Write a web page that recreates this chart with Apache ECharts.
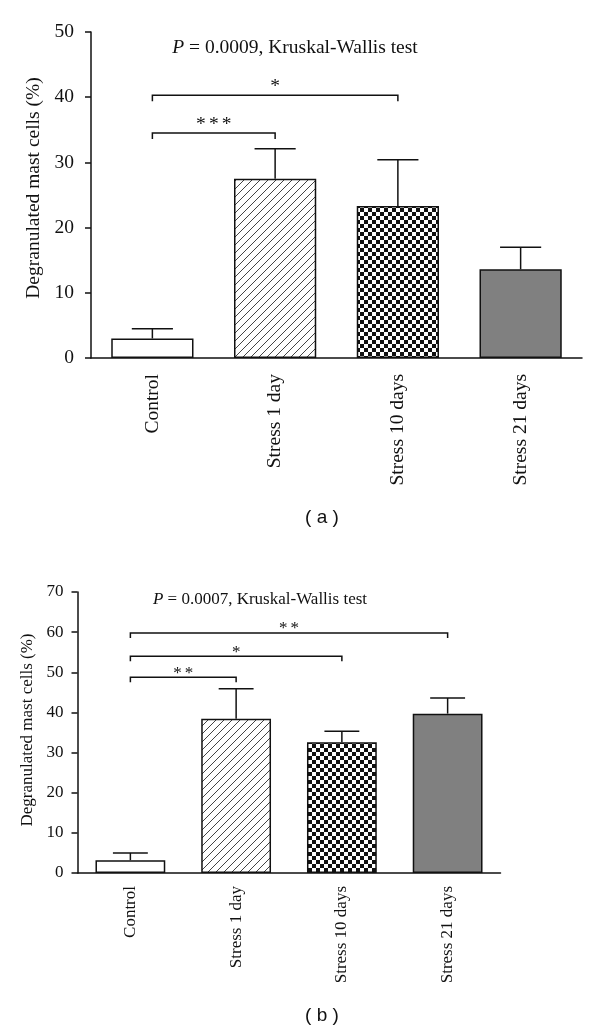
<!DOCTYPE html>
<html>
<head>
<meta charset="utf-8">
<script src="https://cdn.jsdelivr.net/npm/echarts@6/dist/echarts.min.js"></script>
<style>
html,body{margin:0;padding:0;background:#fff;}
#chart{width:600px;height:1031px;}
</style>
</head>
<body>
<div id="chart"></div>
<script>
// ---- data ----
const categories = ['Control', 'Stress 1 day', 'Stress 10 days', 'Stress 21 days'];
const meansA = [3.0, 27.5, 23.3, 13.6];
const errTopA = [4.5, 32.1, 30.4, 17.0];
const meansB = [3.2, 38.4, 32.6, 39.7];
const errTopB = [5.0, 45.9, 35.3, 43.6];
// brackets: [from category index, to category index, level]
const bracketsA = [[0, 1, 34.5], [0, 2, 40.3]];
const starsA = ['*\u2006*\u2006*', '*'];
const bracketsB = [[0, 1, 48.75], [0, 2, 54.0], [0, 3, 59.8]];
const starsB = ['*\u2006*', '*', '*\u2006*'];
const yMaxA = 50, yMaxB = 70, yStep = 10;
const testA = ' = 0.0009, Kruskal-Wallis test';
const testB = ' = 0.0007, Kruskal-Wallis test';
const yName = 'Degranulated mast cells (%)';
const panelA = '( a )', panelB = '( b )';

// ---- patterns ----
function hatchPattern() {
  const c = document.createElement('canvas');
  c.width = 8; c.height = 8;
  const g = c.getContext('2d');
  g.fillStyle = '#fff'; g.fillRect(0, 0, 8, 8);
  g.strokeStyle = '#444'; g.lineWidth = 1;
  g.beginPath();
  g.moveTo(0, 8); g.lineTo(8, 0);
  g.moveTo(-1, 1); g.lineTo(1, -1);
  g.moveTo(7, 9); g.lineTo(9, 7);
  g.stroke();
  return {image: c, repeat: 'repeat'};
}
function checkerPattern() {
  const c = document.createElement('canvas');
  c.width = 8; c.height = 8;
  const g = c.getContext('2d');
  g.fillStyle = '#fff'; g.fillRect(0, 0, 8, 8);
  g.fillStyle = '#111';
  g.fillRect(0, 0, 4, 4); g.fillRect(4, 4, 4, 4);
  return {image: c, repeat: 'repeat'};
}
const fills = ['#ffffff', hatchPattern(), checkerPattern(), '#808080'];

const serif = "'Liberation Serif', 'Times New Roman', serif";
const ink = '#111';

function barData(vals) {
  return vals.map((v, i) => ({
    value: v,
    itemStyle: {color: fills[i], borderColor: ink, borderWidth: 1.5}
  }));
}
function errRender(frac) {
  return function (params, api) {
    const x = api.value(0);
    const p0 = api.coord([x, api.value(1)]);
    const p1 = api.coord([x, api.value(2)]);
    const hw = api.size([1, 0])[0] * frac / 4;
    const st = {stroke: ink, lineWidth: 1.5};
    return {type: 'group', children: [
      {type: 'line', shape: {x1: p0[0], y1: p0[1], x2: p1[0], y2: p1[1]}, style: st},
      {type: 'line', shape: {x1: p1[0] - hw, y1: p1[1], x2: p1[0] + hw, y2: p1[1]}, style: st}
    ]};
  };
}
function bracketRender(stars, drop, fs, off) {
  return function (params, api) {
    const a = api.coord([api.value(0), api.value(2)]);
    const b = api.coord([api.value(1), api.value(2)]);
    return {type: 'group', children: [
      {type: 'polyline', shape: {points: [[a[0], a[1] + drop], [a[0], a[1]], [b[0], b[1]], [b[0], b[1] + drop]]},
        style: {stroke: ink, lineWidth: 1.5, fill: null}},
      {type: 'text', x: (a[0] + b[0]) / 2, y: a[1] - off,
        style: {text: stars[params.dataIndex], font: fs + 'px ' + serif, fill: ink,
          align: 'center', verticalAlign: 'middle'}}
    ]};
  };
}

function xAxis(gi, fs, margin) {
  return {
    type: 'category', gridIndex: gi, data: categories,
    axisLine: {lineStyle: {color: ink, width: 1.5}},
    axisTick: {alignWithLabel: true, length: 6, lineStyle: {color: ink, width: 1.5}},
    axisLabel: {rotate: 90, margin: margin, color: ink, fontSize: fs, fontFamily: serif}
  };
}
function yAxis(gi, max, fs, margin, gap, shift) {
  return {
    type: 'value', gridIndex: gi, min: 0, max: max, interval: yStep,
    name: yName, nameLocation: 'middle', nameGap: gap,
    nameTextStyle: {color: ink, fontSize: fs, fontFamily: serif, padding: [0, 0, 0, shift]},
    axisLine: {show: true, lineStyle: {color: ink, width: 1.5}},
    axisTick: {show: true, length: 6, lineStyle: {color: ink, width: 1.5}},
    axisLabel: {margin: margin, color: ink, fontSize: fs, fontFamily: serif},
    splitLine: {show: false}
  };
}

const chart = echarts.init(document.getElementById('chart'), null, {renderer: 'canvas'});
chart.setOption({
  animation: false,
  backgroundColor: '#fff',
  grid: [
    {left: 91, top: 32, width: 491, height: 326},
    {left: 77.5, top: 592, width: 423, height: 281}
  ],
  xAxis: [xAxis(0, 19.5, 16), xAxis(1, 17, 13)],
  yAxis: [yAxis(0, yMaxA, 19.5, 17, 46, 14), yAxis(1, yMaxB, 17, 14, 39, 5)],
  graphic: [
    {type: 'text', x: 295, y: 48, style: {
      text: '{i|P}' + testA, font: '19.5px ' + serif, fill: ink, align: 'center', verticalAlign: 'middle',
      rich: {i: {fontStyle: 'italic', fontSize: 19.5, fontFamily: serif}}}},
    {type: 'text', x: 260, y: 600, style: {
      text: '{i|P}' + testB, font: '17px ' + serif, fill: ink, align: 'center', verticalAlign: 'middle',
      rich: {i: {fontStyle: 'italic', fontSize: 17, fontFamily: serif}}}},
    {type: 'text', x: 322, y: 518, style: {text: panelA, font: '19px "Liberation Sans", Arial, sans-serif',
      fill: ink, align: 'center', verticalAlign: 'middle'}},
    {type: 'text', x: 322, y: 1016, style: {text: panelB, font: '19px "Liberation Sans", Arial, sans-serif',
      fill: ink, align: 'center', verticalAlign: 'middle'}}
  ],
  series: [
    {type: 'bar', xAxisIndex: 0, yAxisIndex: 0, barWidth: '67%', data: barData(meansA)},
    {type: 'bar', xAxisIndex: 1, yAxisIndex: 1, barWidth: '66%', data: barData(meansB)},
    {type: 'custom', xAxisIndex: 0, yAxisIndex: 0, z: 5, clip: false,
      encode: {x: 0, y: [1, 2]}, renderItem: errRender(0.67),
      data: categories.map((c, i) => [i, meansA[i], errTopA[i]])},
    {type: 'custom', xAxisIndex: 1, yAxisIndex: 1, z: 5, clip: false,
      encode: {x: 0, y: [1, 2]}, renderItem: errRender(0.66),
      data: categories.map((c, i) => [i, meansB[i], errTopB[i]])},
    {type: 'custom', xAxisIndex: 0, yAxisIndex: 0, z: 5, clip: false,
      encode: {x: [0, 1], y: 2}, renderItem: bracketRender(starsA, 6, 19.5, 8),
      data: bracketsA},
    {type: 'custom', xAxisIndex: 1, yAxisIndex: 1, z: 5, clip: false,
      encode: {x: [0, 1], y: 2}, renderItem: bracketRender(starsB, 5, 17, 4),
      data: bracketsB}
  ]
});
</script>
</body>
</html>
